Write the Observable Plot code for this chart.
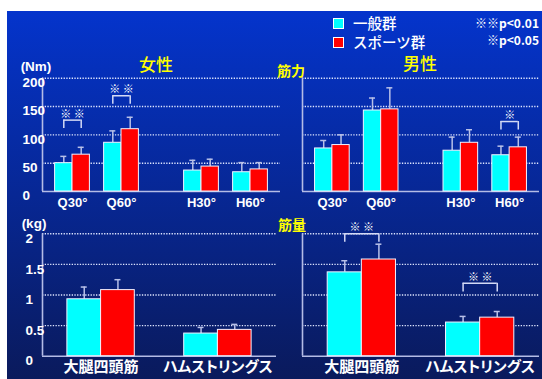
<!DOCTYPE html>
<html>
<head>
<meta charset="utf-8">
<script src="https://cdn.jsdelivr.net/npm/d3@7"></script>
<script src="https://cdn.jsdelivr.net/npm/@observablehq/plot@0.6"></script>
<style>
  html, body { margin: 0; padding: 0; background: #fff; }
  #stage { position: relative; width: 542px; height: 379px; overflow: hidden; background: #fff;
           font-family: "Noto Sans CJK JP", sans-serif; }
  #board { position: absolute; left: 7px; top: 11px; width: 535px; height: 368px;
           background: linear-gradient(#0434cc, #0a1a5c); }
  .lbl { position: absolute; white-space: nowrap; transform: translate(-50%, -50%); line-height: 1; }
  .lbl.right { transform: translate(-100%, -50%); }
  .lbl.left { transform: translate(0, -50%); }
  .panel { position: absolute; }
  .panel svg { position: absolute; left: 0; top: 0; overflow: visible; }
  svg text { font-feature-settings: "palt"; }
  .swatch { position: absolute; width: 9px; height: 9px; border: 1px solid #fff; }
</style>
</head>
<body>
<div id="stage">
  <div id="board"></div>

  <!-- legend -->
  <div class="swatch" style="left:333px;top:18px;background:#00ffff"></div>
  <div class="swatch" style="left:333px;top:37px;background:#ff0000"></div>
  <div class="lbl left" style="left:353px;top:22.5px;color:#fff;font-size:14.5px;font-weight:500">一般群</div>
  <div class="lbl left" style="left:353px;top:42px;color:#fff;font-size:14.5px;font-weight:500">スポーツ群</div>
  <div class="lbl right" style="left:539px;top:23px;color:#fff;font-size:12px;font-weight:700">※※p&lt;0.01</div>
  <div class="lbl right" style="left:539px;top:40px;color:#fff;font-size:12px;font-weight:700">※p&lt;0.05</div>

  <!-- panel titles and units -->
  <div class="lbl" style="left:156px;top:63px;color:#ffff00;font-size:17px;font-weight:500">女性</div>
  <div class="lbl" style="left:420px;top:62px;color:#ffff00;font-size:17px;font-weight:500">男性</div>
  <div class="lbl" style="left:291px;top:70px;color:#ffff00;font-size:14px;font-weight:700">筋力</div>
  <div class="lbl" style="left:292px;top:224px;color:#ffff00;font-size:14px;font-weight:700">筋量</div>
  <div class="lbl" style="left:36px;top:66.5px;color:#fff;font-size:13.5px;font-weight:700;font-family:'Liberation Sans',Arial,sans-serif">(Nm)</div>
  <div class="lbl" style="left:34px;top:223.5px;color:#fff;font-size:13.5px;font-weight:700;font-family:'Liberation Sans',Arial,sans-serif">(kg)</div>
</div>

<script>
// ---- data -------------------------------------------------------------
const series = ["一般群", "スポーツ群"];
const seriesColors = ["#00ffff", "#ff0000"];

// isokinetic strength (Nm): Q = quadriceps, H = hamstrings, 30/60 deg/s
const strengthCats = ["Q30", "Q60", "H30", "H60"];
const strengthLabels = ["Q30°", "Q60°", "H30°", "H60°"];
const strengthTicks = [0, 50, 100, 150, 200];

const femaleStrength = [50, 86, 37, 34];
const femaleStrengthSD = [12, 21, 18, 17];
const femaleStrengthSport = [65, 110, 44, 39];
const femaleStrengthSportSD = [13, 21, 13, 12];

const maleStrength = [76, 143, 72, 64];
const maleStrengthSD = [14, 22, 24, 16];
const maleStrengthSport = [82, 145, 86, 78];
const maleStrengthSportSD = [18, 38, 23, 18];

// muscle mass (kg)
const massCats = ["大腿四頭筋", "ハムストリングス"];
const massTicks = [0, 0.5, 1, 1.5, 2];

const femaleMass = [0.93, 0.37];
const femaleMassSD = [0.20, 0.10];
const femaleMassSport = [1.08, 0.43];
const femaleMassSportSD = [0.17, 0.09];

const maleMass = [1.37, 0.55];
const maleMassSD = [0.19, 0.10];
const maleMassSport = [1.58, 0.63];
const maleMassSportSD = [0.25, 0.10];

// significance: [category, symbol, bracket level]
const femaleStrengthSig = [["Q30", "※ ※", 126], ["Q60", "※ ※", 169]];
const maleStrengthSig = [["H60", "※", 123.5]];
const femaleMassSig = [];
const maleMassSig = [["大腿四頭筋", "※ ※", 2.0], ["ハムストリングス", "※ ※", 1.19]];

// ---- styling ------------------------------------------------------------
const GRID = "#dfe6ff", AXIS = "#b4bce6", ERR = "#b8c0e8", BRACKET = "#d4daf6", BAR_EDGE = "#f2f2ff";
const NUM_FONT = '"Liberation Sans", Arial, sans-serif';
const JP_FONT = '"Noto Sans CJK JP", sans-serif';

const stage = document.getElementById("stage");

const topLeft  = {left: 0,   top: 68,  width: 285, height: 150, ml: 42, mr: 5, mt: 9.7,  mb: 27};
const topRight = {left: 260, top: 68,  width: 282, height: 150, ml: 42, mr: 3, mt: 9.7,  mb: 27};
const botLeft  = {left: 0,   top: 222, width: 285, height: 157, ml: 42, mr: 9, mt: 11.3, mb: 23.3};
const botRight = {left: 260, top: 222, width: 282, height: 157, ml: 42, mr: 3, mt: 11.3, mb: 23.3};

function frameOpts(g) {
  return {width: g.width, height: g.height, marginLeft: g.ml, marginRight: g.mr,
          marginTop: g.mt, marginBottom: g.mb,
          style: {background: "transparent", overflow: "visible"}};
}

// gridlines, axis lines and y tick labels
function backdrop(g, ticks, showLabels, labelDx, labelDy, fmt) {
  const max = ticks[ticks.length - 1];
  return Plot.plot({
    ...frameOpts(g),
    x: {domain: [0, 1], axis: null},
    y: {domain: [0, max], axis: null},
    marks: [
      Plot.ruleY(ticks.filter(t => t > 0), {stroke: GRID, strokeWidth: 1.4, strokeDasharray: "1.3 1.4"}),
      Plot.ruleY([0], {stroke: AXIS, strokeWidth: 1.6}),
      Plot.ruleX([0], {y1: 0, y2: max, stroke: AXIS, strokeWidth: 1.6}),
      showLabels ? Plot.text(ticks, {
        y: d => d, frameAnchor: "left", dx: -labelDx, dy: labelDy, text: fmt,
        fill: "#fff", fontWeight: "bold", fontSize: 13.5, fontFamily: NUM_FONT
      }) : null
    ]
  });
}

function place(g, nodes) {
  const d = document.createElement("div");
  d.className = "panel";
  d.style.left = g.left + "px";
  d.style.top = g.top + "px";
  d.style.width = g.width + "px";
  d.style.height = g.height + "px";
  nodes.forEach(n => d.appendChild(n));
  stage.appendChild(d);
}

// marks for one series: bar, error bar, cap
function seriesMarks(rows, s, barW, bandW, ch) {
  const side = s === 0 ? -1 : 1;
  const capInset = (bandW - 6) / 2;
  return [
    Plot.ruleX(rows, {...ch, y1: "v", y2: d => d.v + d.sd, dx: side * barW / 2, stroke: ERR, strokeWidth: 1.5}),
    Plot.tickY(rows, {...ch, y: d => d.v + d.sd, dx: side * barW / 2, insetLeft: capInset, insetRight: capInset,
                      stroke: ERR, strokeWidth: 1.5}),
    Plot.barY(rows, {...ch, y: "v", fill: seriesColors[s], stroke: BAR_EDGE, strokeWidth: 1,
                     insetLeft: s === 0 ? 0 : barW, insetRight: s === 0 ? barW : 0})
  ];
}

function sigMarks(sig, barW, leg, ch) {
  return [
    Plot.tickY(sig, {...ch, y: "at", insetLeft: barW / 2, insetRight: barW / 2, stroke: BRACKET, strokeWidth: 1.5}),
    Plot.ruleX(sig, {...ch, y1: "at", y2: d => d.at - leg, dx: -barW / 2, stroke: BRACKET, strokeWidth: 1.5}),
    Plot.ruleX(sig, {...ch, y1: "at", y2: d => d.at - leg, dx: barW / 2, stroke: BRACKET, strokeWidth: 1.5}),
    Plot.text(sig, {...ch, y: "at", text: "mark", dy: -6, fill: "#fff", fontSize: 11, fontWeight: "bold", fontFamily: JP_FONT})
  ];
}

// ---- strength panels (grouped: Q / H, then 30 / 60) ----------------------
const FX_PI = 0.225, FX_PO = 0.035, X_PI = 0.29, X_PO = 0.165;

function strengthPanel(g, vals, sds, sVals, sSds, sig, showLabels) {
  const W = g.width - g.ml - g.mr;
  const fxStep = W / (2 - FX_PI + 2 * FX_PO);
  const fxBw = fxStep * (1 - FX_PI);
  const xStep = fxBw / (2 - X_PI + 2 * X_PO);
  const bandW = xStep * (1 - X_PI);
  const barW = bandW / 2;
  const mk = (v, sd) => strengthCats.map((c, i) => ({g: c[0], sp: c.slice(1), v: v[i], sd: sd[i], label: strengthLabels[i]}));
  const general = mk(vals, sds), sport = mk(sVals, sSds);
  const sigRows = sig.map(([c, mark, at]) => ({g: c[0], sp: c.slice(1), mark, at}));
  const ch = {fx: "g", x: "sp"};
  const bars = Plot.plot({
    ...frameOpts(g),
    fx: {domain: ["Q", "H"], paddingInner: FX_PI, paddingOuter: FX_PO, round: false, axis: null, label: null},
    x: {domain: ["30", "60"], paddingInner: X_PI, paddingOuter: X_PO, round: false, axis: null},
    y: {domain: [0, strengthTicks[strengthTicks.length - 1]], axis: null},
    marks: [
      ...seriesMarks(general, 0, barW, bandW, ch),
      ...seriesMarks(sport, 1, barW, bandW, ch),
      ...sigMarks(sigRows, barW, 15, ch),
      Plot.text(general, {...ch, text: "label", frameAnchor: "bottom", dy: 15, fill: "#fff",
                          fontWeight: "bold", fontSize: 13, fontFamily: NUM_FONT})
    ]
  });
  place(g, [backdrop(g, strengthTicks, showLabels, 20, 4.5, d => String(d)), bars]);
}

// ---- mass panels ---------------------------------------------------------
const M_PI = 0.423, M_PO = 0.213;

function massPanel(g, vals, sds, sVals, sSds, sig, showLabels) {
  const W = g.width - g.ml - g.mr;
  const step = W / (2 - M_PI + 2 * M_PO);
  const bandW = step * (1 - M_PI);
  const barW = bandW / 2;
  const mk = (v, sd) => massCats.map((c, i) => ({c, v: v[i], sd: sd[i]}));
  const general = mk(vals, sds), sport = mk(sVals, sSds);
  const sigRows = sig.map(([c, mark, at]) => ({c, mark, at}));
  const ch = {x: "c"};
  const bars = Plot.plot({
    ...frameOpts(g),
    x: {domain: massCats, paddingInner: M_PI, paddingOuter: M_PO, round: false, axis: null},
    y: {domain: [0, massTicks[massTicks.length - 1]], axis: null},
    marks: [
      ...seriesMarks(general, 0, barW, bandW, ch),
      ...seriesMarks(sport, 1, barW, bandW, ch),
      ...sigMarks(sigRows, barW, 0.14, ch),
      Plot.text(massCats, {x: d => d, text: d => d, frameAnchor: "bottom", dy: 15.3, fill: "#fff",
                           fontWeight: "bold", fontSize: 15, fontFamily: JP_FONT})
    ]
  });
  place(g, [backdrop(g, massTicks, showLabels, 17, 4.8, d => String(d)), bars]);
}

strengthPanel(topLeft, femaleStrength, femaleStrengthSD, femaleStrengthSport, femaleStrengthSportSD, femaleStrengthSig, true);
strengthPanel(topRight, maleStrength, maleStrengthSD, maleStrengthSport, maleStrengthSportSD, maleStrengthSig, false);
massPanel(botLeft, femaleMass, femaleMassSD, femaleMassSport, femaleMassSportSD, femaleMassSig, true);
massPanel(botRight, maleMass, maleMassSD, maleMassSport, maleMassSportSD, maleMassSig, false);
</script>
</body>
</html>
